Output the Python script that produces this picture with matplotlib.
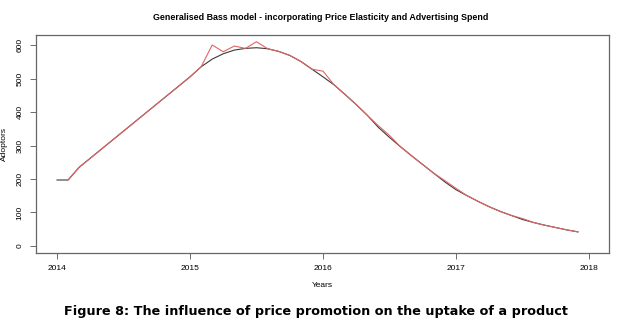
#!/usr/bin/env python3
"""
Generalised Bass model - price elasticity and advertising spend
"""

import matplotlib
matplotlib.use('Agg')
import matplotlib.pyplot as plt
import numpy as np

# monthly periods from Jan 2014
months = np.arange(48)
years = 2014 + months / 12.0

# smooth Bass model (black)
bass = [197, 197, 235, 262, 289, 316, 343, 370, 397, 424, 451, 478,
        505, 535, 558, 574, 585, 590, 592, 589, 581, 569, 551, 528,
        505, 481, 452, 422, 390, 354, 324, 296, 269, 243, 217, 191,
        168, 150, 133, 117, 103, 91, 79, 70, 62, 55, 48, 42]

# model with price promotion (red), starts one period later
promo = [np.nan, 197, 235, 262, 289, 316, 343, 370, 397, 424, 451, 478,
         505, 535, 600, 580, 597, 590, 610, 589, 581, 569, 551, 528,
         522, 481, 452, 422, 390, 359, 330, 296, 269, 243, 217, 195,
         172, 150, 133, 117, 103, 91, 82, 70, 62, 55, 48, 42]

x_ticks = [2014, 2015, 2016, 2017, 2018]
y_ticks = [0, 100, 200, 300, 400, 500, 600]

plt.rcParams['font.family'] = ['Liberation Sans', 'DejaVu Sans']

fig = plt.figure(figsize=(6.28, 3.25), dpi=100)
ax = fig.add_axes([36 / 628, 1 - 253 / 325, (609 - 36) / 628, (253 - 35) / 325])

ax.plot(years, bass, color='#3a3a3a', lw=0.8)
ax.plot(years, promo, color='#e06666', lw=0.8)

ax.set_xlim(2013.842, 2018.15)
ax.set_ylim(-21, 630)
ax.set_xticks(x_ticks)
ax.set_xticklabels([str(y) for y in x_ticks], fontsize=6)
ax.set_yticks(y_ticks)
ax.set_yticklabels([str(v) for v in y_ticks], fontsize=6, rotation=90, va='center')
ax.tick_params(length=4, width=0.6, color='#555555', pad=5)

for sp in ax.spines.values():
    sp.set_color('#666666')
    sp.set_linewidth(0.9)

ax.set_xlabel('Years', fontsize=6, labelpad=7)
ax.set_ylabel('Adoptors', fontsize=6, labelpad=6)

fig.text(0.51, 1 - 18 / 325, 'Generalised Bass model - incorporating Price Elasticity and Advertising Spend',
         ha='center', va='center', fontsize=6.4, fontweight='bold')
fig.text(0.503, 1 - 311 / 325, 'Figure 8: The influence of price promotion on the uptake of a product',
         ha='center', va='center', fontsize=9.2, fontweight='bold', family=['DejaVu Sans'])

fig.savefig('out.png', dpi=100)
